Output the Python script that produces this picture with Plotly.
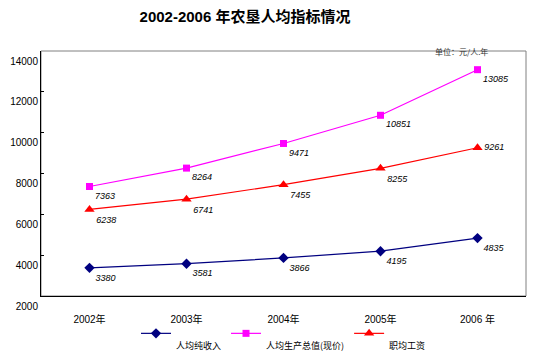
import plotly.graph_objects as go

years = ["2002年", "2003年", "2004年", "2005年", "2006 年"]
income = [3380, 3581, 3866, 4195, 4835]
gdp = [7363, 8264, 9471, 10851, 13085]
wage = [6238, 6741, 7455, 8255, 9261]
names = ["人均纯收入", "人均生产总值(现价)", "职均工资"]

label_font = dict(family="Liberation Sans, Arial", size=9, color="black", style="italic")

fig = go.Figure()
fig.add_trace(go.Scatter(
    x=years, y=income, name="<br>" + names[0], mode="lines+markers+text",
    line=dict(color="#000080", width=1.2),
    marker=dict(symbol="diamond", size=8, color="#000080"),
    text=[str(v) for v in income], textposition="bottom right", textfont=label_font,
))
fig.add_trace(go.Scatter(
    x=years, y=gdp, name="<br>" + names[1], mode="lines+markers+text",
    line=dict(color="#FF00FF", width=1.2),
    marker=dict(symbol="square", size=7, color="#FF00FF"),
    text=[str(v) for v in gdp], textposition="bottom right", textfont=label_font,
))
fig.add_trace(go.Scatter(
    x=years, y=wage, name="<br>" + names[2], mode="lines+markers+text",
    line=dict(color="#FF0000", width=1.2),
    marker=dict(symbol="triangle-up", size=9, color="#FF0000"),
    text=[str(v) for v in wage],
    textposition=["bottom right", "bottom right", "bottom right", "bottom right", "middle right"],
    textfont=label_font,
))

fig.update_layout(
    width=538, height=356,
    margin=dict(l=41, r=12, t=51, b=60),
    paper_bgcolor="white", plot_bgcolor="white",
    font=dict(family="Liberation Sans, Arial, Noto Sans CJK SC", size=10, color="black"),
    title=dict(text="<b>2002-2006 年农垦人均指标情况</b>", xref="container", x=245/538,
               xanchor="center", yref="container", y=1-17/356, yanchor="middle",
               font=dict(family="Liberation Sans, Noto Sans CJK SC", size=15, color="black")),
    showlegend=True,
    legend=dict(orientation="h", x=0.5, xanchor="center", yref="container",
                y=1-321/356, yanchor="top",
                valign="top", font=dict(family="Noto Sans CJK SC", size=9),
                bgcolor="rgba(0,0,0,0)", itemwidth=30, tracegroupgap=0),
    xaxis=dict(type="category", range=[-0.5, 4.5], showline=True, linecolor="black",
               linewidth=1, mirror=False, ticks="", showgrid=False, zeroline=False,
               tickfont=dict(size=10), ticklabelstandoff=14, automargin=False),
    yaxis=dict(range=[2000, 14000], dtick=2000, tickformat="d", showline=True,
               linecolor="black", linewidth=1, ticks="inside", ticklen=3,
               tickcolor="black", showgrid=False, zeroline=False,
               tickfont=dict(size=10), ticklabelshift=10, automargin=False),
    shapes=[dict(type="rect", xref="paper", yref="paper", x0=0, x1=1, y0=0, y1=1,
                 line=dict(color="#808080", width=1), layer="below")],
    annotations=[dict(text="单位：元/人.年", xref="paper", yref="paper",
                      x=(433-41)/(538-53), y=1, xanchor="left", yanchor="middle",
                      showarrow=False,
                      font=dict(family="Noto Sans CJK SC", size=8, color="#333333"))],
)

fig.write_html("out.html", config={"displayModeBar": False},
               post_script="document.body.style.margin='0';")
